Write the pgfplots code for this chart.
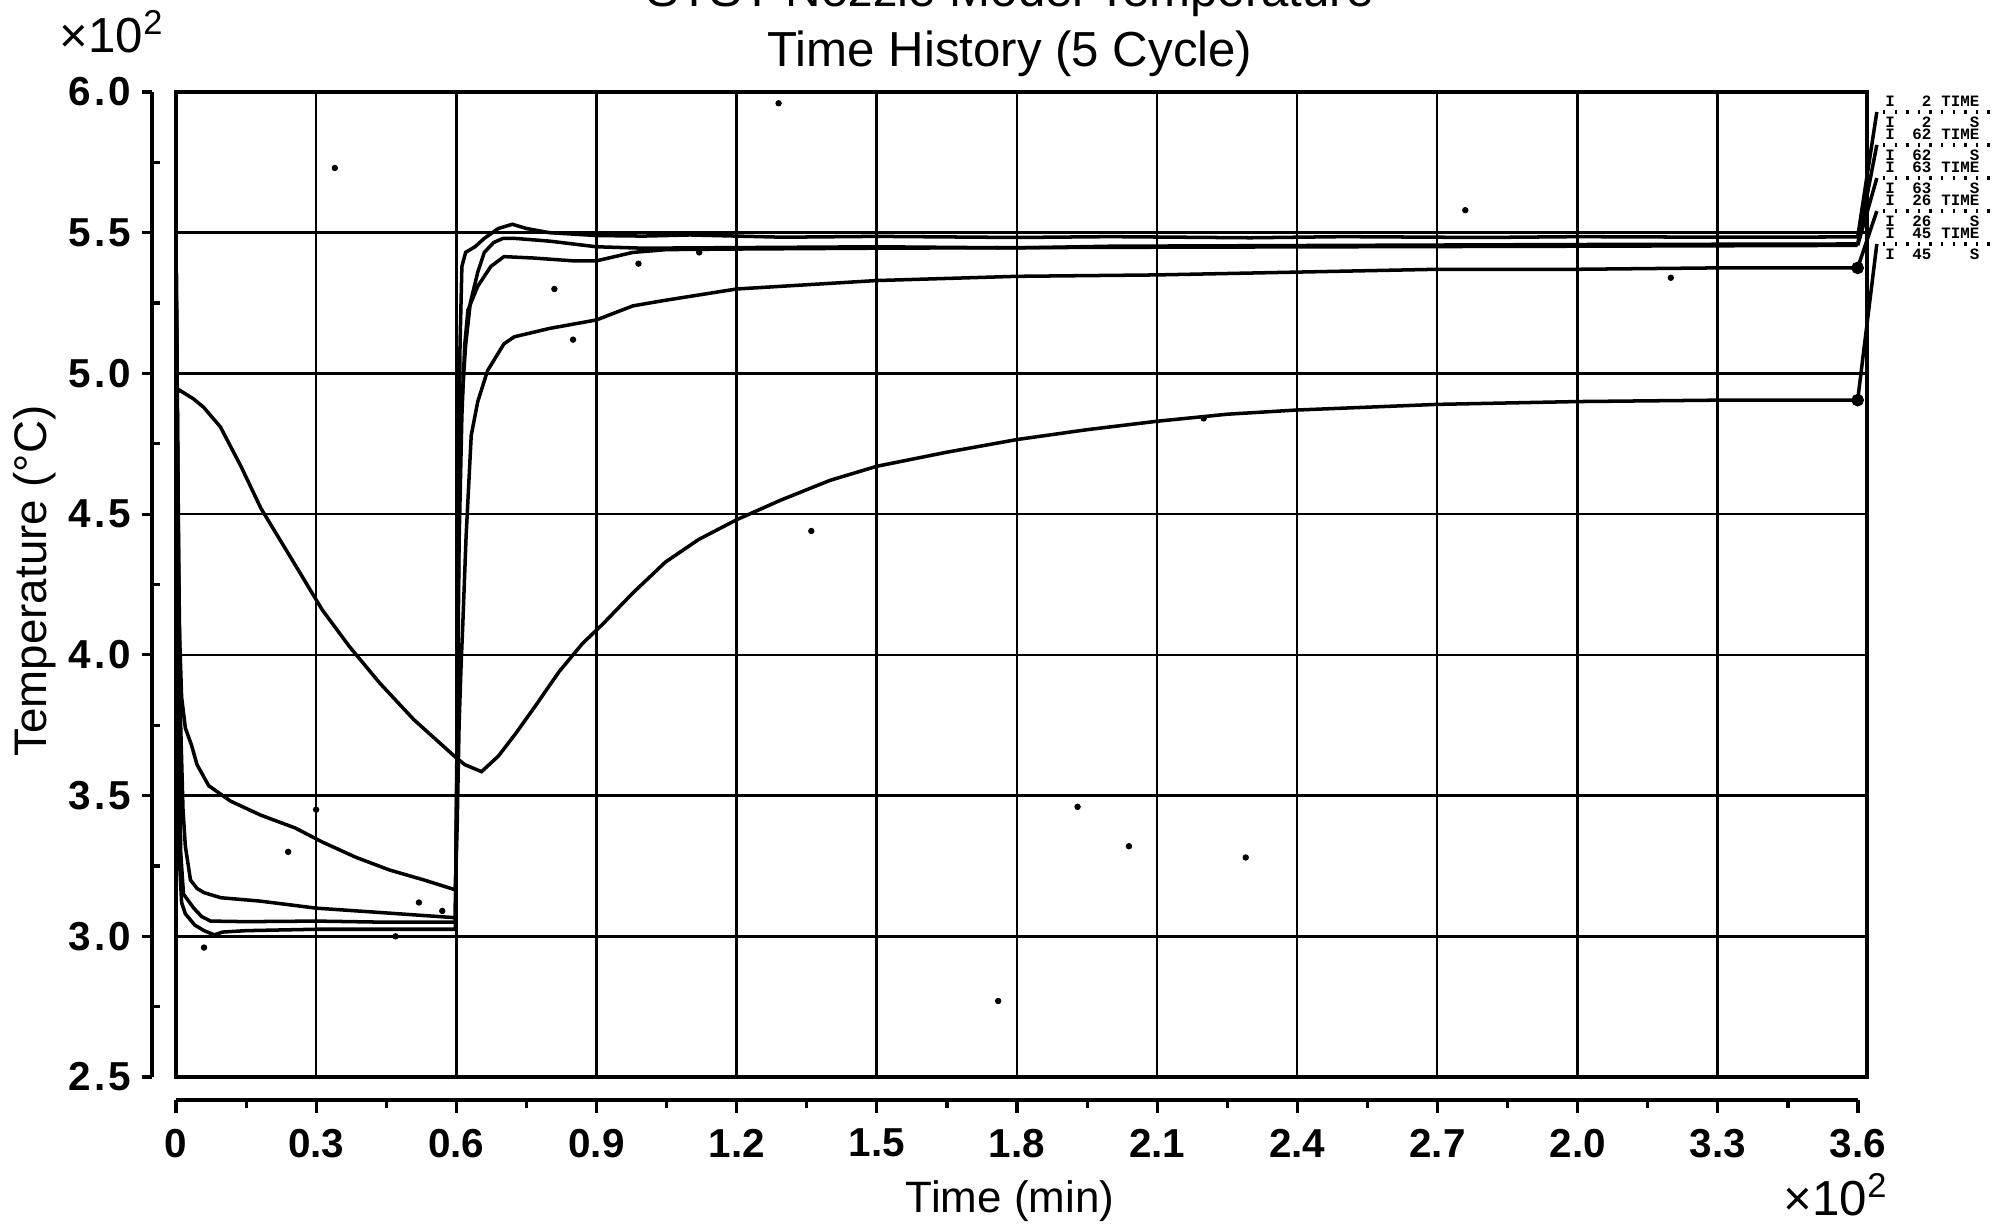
\documentclass[border=0pt]{standalone}
\usepackage{pgfplots}
\pgfplotsset{compat=1.18}
\usepackage{fontspec}
\setmainfont{Liberation Sans}
\newfontfamily\monofont{Liberation Mono}
\begin{document}
\begin{tikzpicture}
\path[use as bounding box] (0,0) rectangle (20.04,12.30);
\tikzset{crv/.style={black, solid, line width=1pt, no markers}}
% main frame with grid and curves
\begin{axis}[
  at={(1.76cm,1.53cm)}, anchor=south west,
  scale only axis, width=16.91cm, height=9.85cm,
  xmin=0, xmax=3.62, ymin=2.5, ymax=6.0,
  xtick={0.3,0.6,0.9,1.2,1.5,1.8,2.1,2.4,2.7,3.0,3.3},
  ytick={3.0,3.5,4.0,4.5,5.0,5.5},
  xticklabels={}, yticklabels={},
  major tick length=0pt,
  grid=major,
  grid style={black, line width=0.7pt},
  axis line style={black, line width=0.9pt},
  clip=false,
]
% curve A (2)
\addplot[crv] coordinates {(0,5.48) (0.002,5.0) (0.004,4.2) (0.006,3.6) (0.008,3.25) (0.012,3.12) (0.02,3.08) (0.04,3.04) (0.06,3.02) (0.082,3.005) (0.1,3.015) (0.15,3.02) (0.3,3.025) (0.45,3.025) (0.598,3.025) (0.602,3.6) (0.605,4.5) (0.608,5.1) (0.612,5.38) (0.62,5.43) (0.64,5.45) (0.66,5.48) (0.69,5.515) (0.72,5.53) (0.75,5.515) (0.8,5.50) (0.9,5.49) (1.0,5.488) (1.1,5.492) (1.3,5.484) (1.5,5.487) (1.8,5.483) (2.0,5.486) (2.3,5.482) (2.5,5.486) (2.8,5.483) (3.0,5.486) (3.3,5.484) (3.6,5.485)};
% curve B (62)
\addplot[crv] coordinates {(0,5.46) (0.003,4.8) (0.006,3.9) (0.01,3.3) (0.016,3.15) (0.038,3.10) (0.055,3.07) (0.074,3.054) (0.15,3.052) (0.3,3.054) (0.45,3.05) (0.598,3.05) (0.602,3.8) (0.606,4.6) (0.61,4.85) (0.62,5.1) (0.63,5.25) (0.646,5.36) (0.66,5.43) (0.68,5.465) (0.70,5.48) (0.724,5.48) (0.8,5.47) (0.9,5.45) (1.0,5.445) (1.2,5.447) (1.5,5.45) (1.8,5.446) (2.0,5.452) (2.5,5.455) (3.0,5.458) (3.6,5.46)};
% curve C (63)
\addplot[crv] coordinates {(0,5.45) (0.003,4.9) (0.006,4.3) (0.01,3.75) (0.015,3.45) (0.02,3.32) (0.031,3.20) (0.045,3.17) (0.06,3.155) (0.096,3.137) (0.18,3.125) (0.3,3.10) (0.45,3.083) (0.598,3.066) (0.602,3.7) (0.606,4.4) (0.612,4.85) (0.618,5.1) (0.625,5.225) (0.646,5.31) (0.674,5.38) (0.702,5.415) (0.766,5.41) (0.85,5.40) (0.9,5.40) (0.978,5.43) (1.05,5.44) (1.2,5.442) (1.5,5.445) (2.0,5.448) (2.5,5.45) (3.0,5.452) (3.6,5.455)};
% curve D (26)
\addplot[crv] coordinates {(0,5.375) (0.002,5.0) (0.004,4.6) (0.007,4.1) (0.012,3.85) (0.02,3.74) (0.033,3.68) (0.045,3.61) (0.07,3.535) (0.117,3.48) (0.182,3.43) (0.255,3.385) (0.313,3.335) (0.386,3.28) (0.458,3.235) (0.531,3.20) (0.598,3.165) (0.602,3.4) (0.606,3.75) (0.61,3.95) (0.614,4.11) (0.621,4.42) (0.632,4.78) (0.646,4.9) (0.667,5.01) (0.702,5.105) (0.724,5.13) (0.8,5.16) (0.9,5.19) (0.978,5.24) (1.048,5.26) (1.2,5.30) (1.4,5.32) (1.5,5.33) (1.8,5.345) (2.1,5.35) (2.4,5.36) (2.7,5.37) (3.0,5.37) (3.3,5.375) (3.6,5.375)};
% curve E (45)
\addplot[crv] coordinates {(0,4.93) (0.008,4.94) (0.037,4.91) (0.059,4.88) (0.095,4.81) (0.139,4.67) (0.182,4.52) (0.255,4.32) (0.313,4.16) (0.371,4.03) (0.436,3.90) (0.509,3.77) (0.596,3.64) (0.618,3.61) (0.654,3.585) (0.69,3.64) (0.727,3.72) (0.77,3.82) (0.82,3.94) (0.87,4.04) (0.914,4.11) (0.978,4.22) (1.048,4.33) (1.119,4.41) (1.2,4.48) (1.295,4.55) (1.4,4.62) (1.5,4.67) (1.65,4.72) (1.8,4.765) (1.95,4.80) (2.1,4.83) (2.25,4.855) (2.4,4.87) (2.55,4.88) (2.7,4.89) (2.85,4.895) (3.0,4.90) (3.3,4.905) (3.6,4.905)};
% end marks
\addplot[black, only marks, mark=*, mark size=1.6pt] coordinates {(3.6,4.905) (3.6,5.375)};
% leader lines
\addplot[crv] coordinates {(3.6,5.485) (3.641,5.929)};
\addplot[crv] coordinates {(3.6,5.46) (3.641,5.812)};
\addplot[crv] coordinates {(3.6,5.455) (3.641,5.694)};
\addplot[crv] coordinates {(3.6,5.375) (3.641,5.577)};
\addplot[crv] coordinates {(3.6,4.905) (3.641,5.46)};
% scattered noise dots
\addplot[black, only marks, mark=*, mark size=0.7pt] coordinates {(0.34,5.73) (1.29,5.96) (2.76,5.58) (1.93,3.46) (2.04,3.32) (2.29,3.28) (1.76,2.77) (1.36,4.44) (0.30,3.45) (0.52,3.12) (0.81,5.30) (1.12,5.43) (0.99,5.39) (2.2,4.84) (3.2,5.34) (0.06,2.96) (0.47,3.0) (0.85,5.12) (0.24,3.3) (0.57,3.09)};
\end{axis}
% x tick axis (offset below)
\begin{axis}[
  at={(1.76cm,1.30cm)}, anchor=south west,
  scale only axis, width=16.82cm, height=0.5cm,
  xmin=0, xmax=3.6, ymin=0, ymax=1,
  axis x line*=bottom, axis y line=none,
  x axis line style={-, black, line width=0.9pt},
  xtick={0,0.3,0.6,0.9,1.2,1.5,1.8,2.1,2.4,2.7,3.0,3.3,3.6},
  xticklabels={0,0.3,0.6,0.9,1.2,1.5,1.8,2.1,2.4,2.7,2.0,3.3,3.6},
  minor x tick num=1,
  tick align=outside,
  major tick length=0.13cm, minor tick length=0.08cm,
  tick style={black, line width=0.9pt},
  xticklabel style={font=\fontsize{11.5}{12}\selectfont\bfseries, yshift=-1pt},
]
\end{axis}
% y tick axis (offset left)
\begin{axis}[
  at={(1.52cm,1.53cm)}, anchor=south west,
  scale only axis, width=0.5cm, height=9.85cm,
  xmin=0, xmax=1, ymin=2.5, ymax=6.0,
  axis y line*=left, axis x line=none,
  y axis line style={-, black, line width=0.9pt},
  ytick={2.5,3.0,3.5,4.0,4.5,5.0,5.5,6.0},
  yticklabels={2.5,3.0,3.5,4.0,4.5,5.0,5.5,6.0},
  minor y tick num=1,
  tick align=outside,
  major tick length=0.1cm, minor tick length=0.08cm,
  tick style={black, line width=0.9pt},
  minor y tick style={xshift=0.08cm},
  yticklabel style={font=\fontsize{11.5}{12}\selectfont\bfseries\addfontfeatures{LetterSpace=8}, xshift=0.5pt},
]
\end{axis}
% titles and labels
\node[anchor=base, font=\fontsize{14}{16}\selectfont] at (10.10,12.23) {STST Nozzle Model Temperature};
\node[font=\fontsize{14}{16}\selectfont] at (10.10,11.76) {Time History (5 Cycle)};
\node[font=\fontsize{14}{16}\selectfont] at (1.12,11.98) {×10\textsuperscript{2}};
\node[font=\fontsize{14}{16}\selectfont] at (18.36,0.35) {×10\textsuperscript{2}};
\node[font=\fontsize{12.5}{14}\selectfont] at (10.10,0.29) {Time (min)};
\node[rotate=90, font=\fontsize{13}{15}\selectfont] at (0.35,6.49) {Temperature (°C)};
% legend
\foreach \n [count=\k from 0] in {2,62,63,26,45} {
  \pgfmathsetmacro{\yt}{12.30-(1.01+0.33*\k)}
  \pgfmathsetmacro{\yd}{12.30-(1.12+0.33*\k)}
  \pgfmathsetmacro{\ys}{12.30-(1.22+0.33*\k)}
  \node[font=\monofont\fontsize{4.5}{4.5}\selectfont\bfseries, inner sep=0pt] at (18.90,\yt) {I};
  \node[font=\monofont\fontsize{4.5}{4.5}\selectfont\bfseries, inner sep=0pt, anchor=east] at (19.32,\yt) {\n};
  \node[font=\monofont\fontsize{4.5}{4.5}\selectfont\bfseries, inner sep=0pt, anchor=east] at (19.80,\yt) {TIME};
  \draw[line width=1pt, dash pattern=on 0.7pt off 2.6pt] (18.83,\yd) -- (19.97,\yd);
  \node[font=\monofont\fontsize{4.5}{4.5}\selectfont\bfseries, inner sep=0pt] at (18.90,\ys) {I};
  \node[font=\monofont\fontsize{4.5}{4.5}\selectfont\bfseries, inner sep=0pt, anchor=east] at (19.32,\ys) {\n};
  \node[font=\monofont\fontsize{4.5}{4.5}\selectfont\bfseries, inner sep=0pt, anchor=east] at (19.80,\ys) {S};
}
\end{tikzpicture}
\end{document}
